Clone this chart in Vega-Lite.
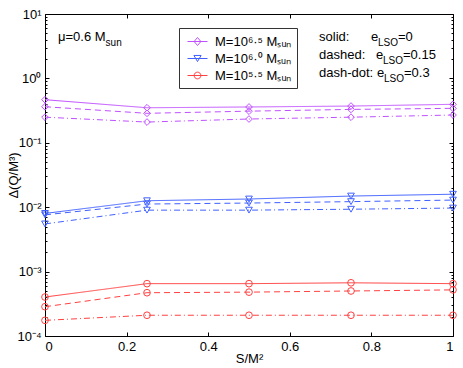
{
  "$schema": "https://vega.github.io/schema/vega-lite/v6.json",
  "width": 408,
  "height": 322,
  "autosize": {"type": "none"},
  "padding": {"left": 45, "top": 14, "right": 10, "bottom": 32},
  "background": "white",
  "config": {
    "view": {"stroke": "#000", "strokeWidth": 1},
    "font": "Liberation Sans",
    "axis": {
      "grid": false, "domain": false, "tickColor": "#000", "tickWidth": 1,
      "labelColor": "#000", "titleColor": "#000",
      "labelFont": "Liberation Sans", "titleFont": "Liberation Sans",
      "labelFontSize": 13, "titleFontSize": 13, "titleFontWeight": "normal"
    },
    "legend": {
      "labelFont": "Liberation Sans", "labelFontSize": 13, "labelColor": "#000"
    }
  },
  "datasets": {
    "curves": [
      {"s": 0, "M": "6.5", "e": "0", "v": 0.467},
      {"s": 0.25, "M": "6.5", "e": "0", "v": 0.35},
      {"s": 0.5, "M": "6.5", "e": "0", "v": 0.36},
      {"s": 0.75, "M": "6.5", "e": "0", "v": 0.372},
      {"s": 1, "M": "6.5", "e": "0", "v": 0.396},
      {"s": 0, "M": "6.5", "e": "0.15", "v": 0.363},
      {"s": 0.25, "M": "6.5", "e": "0.15", "v": 0.287},
      {"s": 0.5, "M": "6.5", "e": "0.15", "v": 0.31},
      {"s": 0.75, "M": "6.5", "e": "0.15", "v": 0.33},
      {"s": 1, "M": "6.5", "e": "0.15", "v": 0.343},
      {"s": 0, "M": "6.5", "e": "0.3", "v": 0.25},
      {"s": 0.25, "M": "6.5", "e": "0.3", "v": 0.21},
      {"s": 0.5, "M": "6.5", "e": "0.3", "v": 0.234},
      {"s": 0.75, "M": "6.5", "e": "0.3", "v": 0.25},
      {"s": 1, "M": "6.5", "e": "0.3", "v": 0.27},
      {"s": 0, "M": "6.0", "e": "0", "v": 0.0080},
      {"s": 0.25, "M": "6.0", "e": "0", "v": 0.0126},
      {"s": 0.5, "M": "6.0", "e": "0", "v": 0.0134},
      {"s": 0.75, "M": "6.0", "e": "0", "v": 0.0149},
      {"s": 1, "M": "6.0", "e": "0", "v": 0.0159},
      {"s": 0, "M": "6.0", "e": "0.15", "v": 0.0076},
      {"s": 0.25, "M": "6.0", "e": "0.15", "v": 0.0112},
      {"s": 0.5, "M": "6.0", "e": "0.15", "v": 0.0116},
      {"s": 0.75, "M": "6.0", "e": "0.15", "v": 0.0122},
      {"s": 1, "M": "6.0", "e": "0.15", "v": 0.0129},
      {"s": 0, "M": "6.0", "e": "0.3", "v": 0.0055},
      {"s": 0.25, "M": "6.0", "e": "0.3", "v": 0.0090},
      {"s": 0.5, "M": "6.0", "e": "0.3", "v": 0.0090},
      {"s": 0.75, "M": "6.0", "e": "0.3", "v": 0.0093},
      {"s": 1, "M": "6.0", "e": "0.3", "v": 0.0097},
      {"s": 0, "M": "5.5", "e": "0", "v": 0.000403},
      {"s": 0.25, "M": "5.5", "e": "0", "v": 0.00065},
      {"s": 0.5, "M": "5.5", "e": "0", "v": 0.00065},
      {"s": 0.75, "M": "5.5", "e": "0", "v": 0.00067},
      {"s": 1, "M": "5.5", "e": "0", "v": 0.00065},
      {"s": 0, "M": "5.5", "e": "0.15", "v": 0.000285},
      {"s": 0.25, "M": "5.5", "e": "0.15", "v": 0.00047},
      {"s": 0.5, "M": "5.5", "e": "0.15", "v": 0.00048},
      {"s": 0.75, "M": "5.5", "e": "0.15", "v": 0.0005},
      {"s": 1, "M": "5.5", "e": "0.15", "v": 0.00052},
      {"s": 0, "M": "5.5", "e": "0.3", "v": 0.000175},
      {"s": 0.25, "M": "5.5", "e": "0.3", "v": 0.00021},
      {"s": 0.5, "M": "5.5", "e": "0.3", "v": 0.00021},
      {"s": 0.75, "M": "5.5", "e": "0.3", "v": 0.00021},
      {"s": 1, "M": "5.5", "e": "0.3", "v": 0.00021}
    ],
    "notes": [
      {"s": 0.0319, "v": 4.39, "text": "μ=0.6 M", "kind": "main"},
      {"s": 0.1485, "v": 4.39, "text": "sun", "kind": "sub"},
      {"s": 0.6716, "v": 4.39, "text": "solid:", "kind": "main"},
      {"s": 0.7990, "v": 4.39, "text": "e", "kind": "main"},
      {"s": 0.8162, "v": 4.39, "text": "LSO", "kind": "sub"},
      {"s": 0.8652, "v": 4.39, "text": "=0", "kind": "main"},
      {"s": 0.6716, "v": 2.31, "text": "dashed:", "kind": "main"},
      {"s": 0.8113, "v": 2.31, "text": "e", "kind": "main"},
      {"s": 0.8284, "v": 2.31, "text": "LSO", "kind": "sub"},
      {"s": 0.8775, "v": 2.31, "text": "=0.15", "kind": "main"},
      {"s": 0.6716, "v": 1.21, "text": "dash-dot:", "kind": "main"},
      {"s": 0.8137, "v": 1.21, "text": "e", "kind": "main"},
      {"s": 0.8309, "v": 1.21, "text": "LSO", "kind": "sub"},
      {"s": 0.8799, "v": 1.21, "text": "=0.3", "kind": "main"}
    ]
  },
  "layer": [
    {
      "data": {"name": "curves"},
      "mark": {"type": "line", "strokeWidth": 1},
      "encoding": {
        "x": {"field": "s", "type": "quantitative",
          "scale": {"domain": [0, 1], "nice": false, "zero": false},
          "axis": {"orient": "bottom", "values": [0, 0.2, 0.4, 0.6, 0.8, 1], "format": "~g",
            "tickSize": -4, "labelPadding": 8, "title": "S/M²", "titlePadding": -1}},
        "y": {"field": "v", "type": "quantitative",
          "scale": {"type": "log", "domain": [0.0001, 10], "nice": false},
          "axis": {"orient": "left",
            "values": [0.0001,0.0002,0.0003,0.0004,0.0005,0.0006,0.0007,0.0008,0.0009,0.001,0.002,0.003,0.004,0.005,0.006,0.007,0.008,0.009,0.01,0.02,0.03,0.04,0.05,0.06,0.07,0.08,0.09,0.1,0.2,0.3,0.4,0.5,0.6,0.7,0.8,0.9,1,2,3,4,5,6,7,8,9,10],
            "labelExpr": "abs(log(datum.value)/LN10 - round(log(datum.value)/LN10)) > 0.001 ? '' : ['10⁻⁴','10⁻³','10⁻²','10⁻¹','10⁰','10¹'][round(log(datum.value)/LN10)+4]",
            "tickSize": {"condition": {"test": "abs(log(datum.value)/LN10 - round(log(datum.value)/LN10)) < 0.001", "value": -4}, "value": -2},
            "labelPadding": 8, "labelFlush": false, "labelOverlap": false,
            "title": "Δ(Q/M³)", "titlePadding": -4}},
        "stroke": {"field": "M", "type": "nominal",
          "scale": {"range": ["#ff4040", "#4060ff", "#c050ff"]}, "legend": null},
        "strokeDash": {"field": "e", "type": "nominal",
          "scale": {"range": [[1, 0], [6, 4], [6, 3, 1, 3]]}, "legend": null}
      }
    },
    {
      "data": {"name": "curves"},
      "transform": [{"filter": "datum.M == '6.5'"}],
      "mark": {"type": "point", "shape": "diamond", "filled": false, "size": 45, "strokeWidth": 1, "opacity": 1},
      "encoding": {
        "x": {"field": "s", "type": "quantitative",
          "scale": {"domain": [0, 1], "nice": false, "zero": false},
          "axis": {"orient": "top", "values": [0, 0.2, 0.4, 0.6, 0.8, 1], "labels": false, "tickSize": -4, "title": null}},
        "y": {"field": "v", "type": "quantitative",
          "scale": {"type": "log", "domain": [0.0001, 10], "nice": false},
          "axis": {"orient": "right",
            "values": [0.0001,0.0002,0.0003,0.0004,0.0005,0.0006,0.0007,0.0008,0.0009,0.001,0.002,0.003,0.004,0.005,0.006,0.007,0.008,0.009,0.01,0.02,0.03,0.04,0.05,0.06,0.07,0.08,0.09,0.1,0.2,0.3,0.4,0.5,0.6,0.7,0.8,0.9,1,2,3,4,5,6,7,8,9,10],
            "labels": false,
            "tickSize": {"condition": {"test": "abs(log(datum.value)/LN10 - round(log(datum.value)/LN10)) < 0.001", "value": -4}, "value": -2},
            "title": null}},
        "stroke": {"field": "M", "type": "nominal", "legend": null}
      }
    },
    {
      "data": {"name": "curves"},
      "transform": [{"filter": "datum.M == '6.0'"}],
      "mark": {"type": "point", "shape": "triangle-down", "filled": false, "size": 45, "strokeWidth": 1, "opacity": 1},
      "encoding": {
        "x": {"field": "s", "type": "quantitative", "scale": {"domain": [0, 1], "nice": false, "zero": false}, "axis": null},
        "y": {"field": "v", "type": "quantitative", "scale": {"type": "log", "domain": [0.0001, 10], "nice": false}, "axis": null},
        "stroke": {"field": "M", "type": "nominal", "legend": null}
      }
    },
    {
      "data": {"name": "curves"},
      "transform": [{"filter": "datum.M == '5.5'"}],
      "mark": {"type": "point", "shape": "circle", "filled": false, "size": 45, "strokeWidth": 1, "opacity": 1},
      "encoding": {
        "x": {"field": "s", "type": "quantitative", "scale": {"domain": [0, 1], "nice": false, "zero": false}, "axis": null},
        "y": {"field": "v", "type": "quantitative", "scale": {"type": "log", "domain": [0.0001, 10], "nice": false}, "axis": null},
        "stroke": {"field": "M", "type": "nominal", "legend": null}
      }
    },
    {
      "data": {"name": "curves"},
      "transform": [{"filter": "false"}],
      "mark": {"type": "point", "filled": false, "size": 45, "strokeWidth": 1, "opacity": 1},
      "encoding": {
        "x": {"field": "s", "type": "quantitative", "scale": {"domain": [0, 1], "nice": false, "zero": false}, "axis": null},
        "y": {"field": "v", "type": "quantitative", "scale": {"type": "log", "domain": [0.0001, 10], "nice": false}, "axis": null},
        "color": {"field": "M", "type": "nominal",
          "scale": {"domain": ["6.5", "6.0", "5.5"], "range": ["#c050ff", "#4060ff", "#ff4040"]},
          "legend": {
            "orient": "none", "legendX": 134, "legendY": 14, "title": null,
            "symbolSize": 256, "symbolStrokeWidth": 1, "strokeColor": "#333", "fillColor": "#fff",
            "padding": 5, "rowPadding": 1, "symbolOffset": 5, "labelOffset": 9,
            "labelExpr": "'M=10' + (datum.value == '6.5' ? '⁶·⁵' : datum.value == '6.0' ? '⁶·⁰' : '⁵·⁵') + ' Mₛᵤₙ'"
          }},
        "shape": {"field": "M", "type": "nominal",
          "scale": {"domain": ["6.5", "6.0", "5.5"],
            "range": ["M-1.25,0H1.25M0,-0.5L0.42,0L0,0.5L-0.42,0Z", "M-1.25,0H1.25M-0.45,-0.38L0.45,-0.38L0,0.38Z", "M-1.25,0H1.25M0.42,0A0.42,0.42,0,1,1,-0.42,0A0.42,0.42,0,1,1,0.42,0Z"]}}
      }
    },
    {
      "data": {"name": "notes"},
      "transform": [{"filter": "datum.kind == 'main'"}],
      "mark": {"type": "text", "align": "left", "baseline": "middle", "fontSize": 13, "font": "Liberation Sans", "color": "#000"},
      "encoding": {
        "x": {"field": "s", "type": "quantitative", "scale": {"domain": [0, 1], "nice": false, "zero": false}, "axis": null},
        "y": {"field": "v", "type": "quantitative", "scale": {"type": "log", "domain": [0.0001, 10], "nice": false}, "axis": null},
        "text": {"field": "text"}
      }
    },
    {
      "data": {"name": "notes"},
      "transform": [{"filter": "datum.kind == 'sub'"}],
      "mark": {"type": "text", "align": "left", "baseline": "middle", "fontSize": 10, "dy": 6, "font": "Liberation Sans", "color": "#000"},
      "encoding": {
        "x": {"field": "s", "type": "quantitative", "scale": {"domain": [0, 1], "nice": false, "zero": false}, "axis": null},
        "y": {"field": "v", "type": "quantitative", "scale": {"type": "log", "domain": [0.0001, 10], "nice": false}, "axis": null},
        "text": {"field": "text"}
      }
    }
  ],
  "resolve": {"axis": {"x": "independent", "y": "independent"}}
}
